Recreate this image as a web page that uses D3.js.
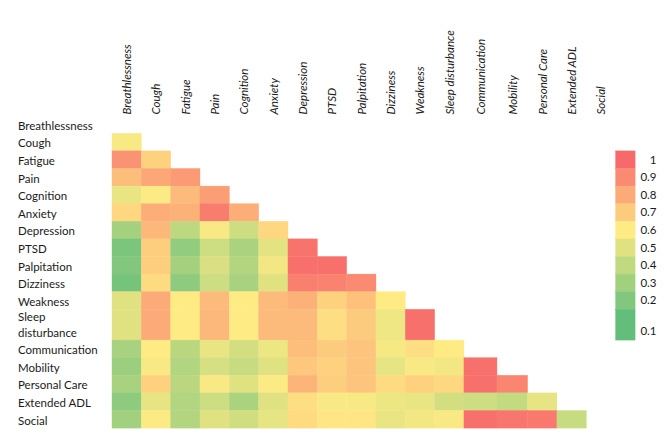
<!DOCTYPE html>
<html lang="en">
<head>
    <meta charset="UTF-8">
    <title>Symptom correlation heatmap</title>
    <script src="https://cdn.jsdelivr.net/npm/d3@7"></script>
    <style>
        body { margin: 0; background: #fff; }
        svg text { font-family: Lato, "Open Sans", sans-serif; fill: #1a1a1a; }
        .col-label { font-style: italic; }
    </style>
</head>
<body>
    <div id="chart"></div>
<script>
    // variables (rows and columns share the same list)
    const categories = ["Breathlessness", "Cough", "Fatigue", "Pain", "Cognition", "Anxiety",
        "Depression", "PTSD", "Palpitation", "Dizziness", "Weakness", "Sleep disturbance",
        "Communication", "Mobility", "Personal Care", "Extended ADL", "Social"];

    // lower triangle, row i holds correlations with columns 0..i-1
    const corrRows = [
        [],
        [0.58],
        [0.87, 0.68],
        [0.74, 0.81, 0.85],
        [0.53, 0.59, 0.75, 0.84],
        [0.66, 0.79, 0.78, 0.94, 0.79],
        [0.31, 0.76, 0.39, 0.58, 0.44, 0.66],
        [0.18, 0.69, 0.25, 0.44, 0.33, 0.51, 0.97],
        [0.20, 0.69, 0.31, 0.48, 0.36, 0.56, 0.98, 0.98],
        [0.16, 0.65, 0.24, 0.44, 0.32, 0.50, 0.93, 0.92, 0.90],
        [0.50, 0.80, 0.60, 0.75, 0.60, 0.75, 0.78, 0.68, 0.73, 0.60],
        [0.50, 0.80, 0.60, 0.76, 0.60, 0.75, 0.75, 0.64, 0.70, 0.55, 0.98],
        [0.32, 0.60, 0.38, 0.53, 0.46, 0.54, 0.74, 0.70, 0.72, 0.57, 0.64, 0.60],
        [0.28, 0.58, 0.35, 0.47, 0.42, 0.50, 0.71, 0.68, 0.72, 0.52, 0.58, 0.56, 0.98],
        [0.32, 0.68, 0.38, 0.58, 0.50, 0.59, 0.77, 0.69, 0.72, 0.65, 0.68, 0.66, 0.98, 0.91],
        [0.24, 0.52, 0.35, 0.44, 0.33, 0.50, 0.64, 0.58, 0.58, 0.54, 0.53, 0.46, 0.44, 0.41, 0.52],
        [0.30, 0.59, 0.36, 0.50, 0.45, 0.52, 0.65, 0.62, 0.62, 0.53, 0.56, 0.58, 0.98, 0.96, 0.95, 0.42]
    ];

    const legendTicks = [1, 0.9, 0.8, 0.7, 0.6, 0.5, 0.4, 0.3, 0.2, 0.1];

    const width = 669, height = 445;
    const gridLeft = 112, gridTop = 115.7;
    const colUnit = 29.33, rowUnit = 17.6;
    const fontSize = 11.5;

    // spreadsheet-like cell sizes: wrapped label row is taller, a couple of wider columns
    const rowWeight = c => c === "Sleep disturbance" ? 1.75 : 1;
    const colWeight = c => c === "Communication" ? 1.125 : (c === "Mobility" ? 1.045 : 1);

    function cumulative(weights) {
        const out = [0];
        weights.forEach(w => out.push(out[out.length - 1] + w));
        return out;
    }
    const rowEdges = cumulative(categories.map(rowWeight));
    const colEdges = cumulative(categories.map(colWeight));

    const yUnits = d3.scaleLinear().domain([0, 1]).range([gridTop, gridTop + rowUnit]);
    const xUnits = d3.scaleLinear().domain([0, 1]).range([gridLeft, gridLeft + colUnit]);
    const rowTop = i => yUnits(rowEdges[i]);
    const rowBottom = i => yUnits(rowEdges[i + 1]);
    const colLeft = j => xUnits(colEdges[j]);
    const colRight = j => xUnits(colEdges[j + 1]);

    const color = d3.scaleLinear()
        .domain([0.1, 0.6, 1])
        .range(["#63BE7B", "#FFEB84", "#F8696B"])
        .clamp(true);

    const cells = [];
    corrRows.forEach((row, i) => row.forEach((v, j) => cells.push({ i, j, v })));

    const svg = d3.select("#chart")
        .append("svg")
        .attr("width", width)
        .attr("height", height);

    svg.append("rect")
        .attr("width", width)
        .attr("height", height)
        .attr("fill", "#fff");

    svg.append("g")
        .selectAll("rect")
        .data(cells)
        .join("rect")
        .attr("x", d => colLeft(d.j))
        .attr("y", d => rowTop(d.i))
        .attr("width", d => colRight(d.j) - colLeft(d.j))
        .attr("height", d => rowBottom(d.i) - rowTop(d.i))
        .attr("fill", d => color(d.v))
        .attr("stroke", d => color(d.v))
        .attr("stroke-width", 0.4);

    // row labels, bottom aligned like the sheet
    const rowLabels = svg.append("g")
        .selectAll("text")
        .data(categories)
        .join("text")
        .attr("font-size", fontSize);

    rowLabels.each(function (d, i) {
        const parts = d === "Sleep disturbance" ? ["Sleep", "disturbance"] : [d];
        const t = d3.select(this);
        parts.forEach((p, k) => {
            t.append("tspan")
                .attr("x", 18)
                .attr("y", rowBottom(i) - 3.6 - (parts.length - 1 - k) * 15.5)
                .text(p);
        });
    });

    // column labels, rotated
    svg.append("g")
        .selectAll("text")
        .data(categories)
        .join("text")
        .attr("class", "col-label")
        .attr("font-size", fontSize)
        .attr("transform", (d, j) => `translate(${(colLeft(j) + colRight(j)) / 2 + 4.5}, 114.5) rotate(-90)`)
        .text(d => d);

    // legend column, sharing the sheet rows
    const legendX = colRight(categories.length - 1), legendW = 19.5;
    const legend = svg.append("g");

    legend.selectAll("rect")
        .data(legendTicks)
        .join("rect")
        .attr("x", legendX)
        .attr("y", (d, k) => rowTop(k + 2))
        .attr("width", legendW)
        .attr("height", (d, k) => rowBottom(k + 2) - rowTop(k + 2))
        .attr("fill", d => color(d))
        .attr("stroke", d => color(d))
        .attr("stroke-width", 0.4);

    legend.selectAll("text")
        .data(legendTicks)
        .join("text")
        .attr("font-size", fontSize)
        .attr("text-anchor", "end")
        .attr("x", 656.5)
        .attr("y", (d, k) => rowBottom(k + 2) - 5)
        .text(d => d3.format("~g")(d));
</script>
</body>
</html>
